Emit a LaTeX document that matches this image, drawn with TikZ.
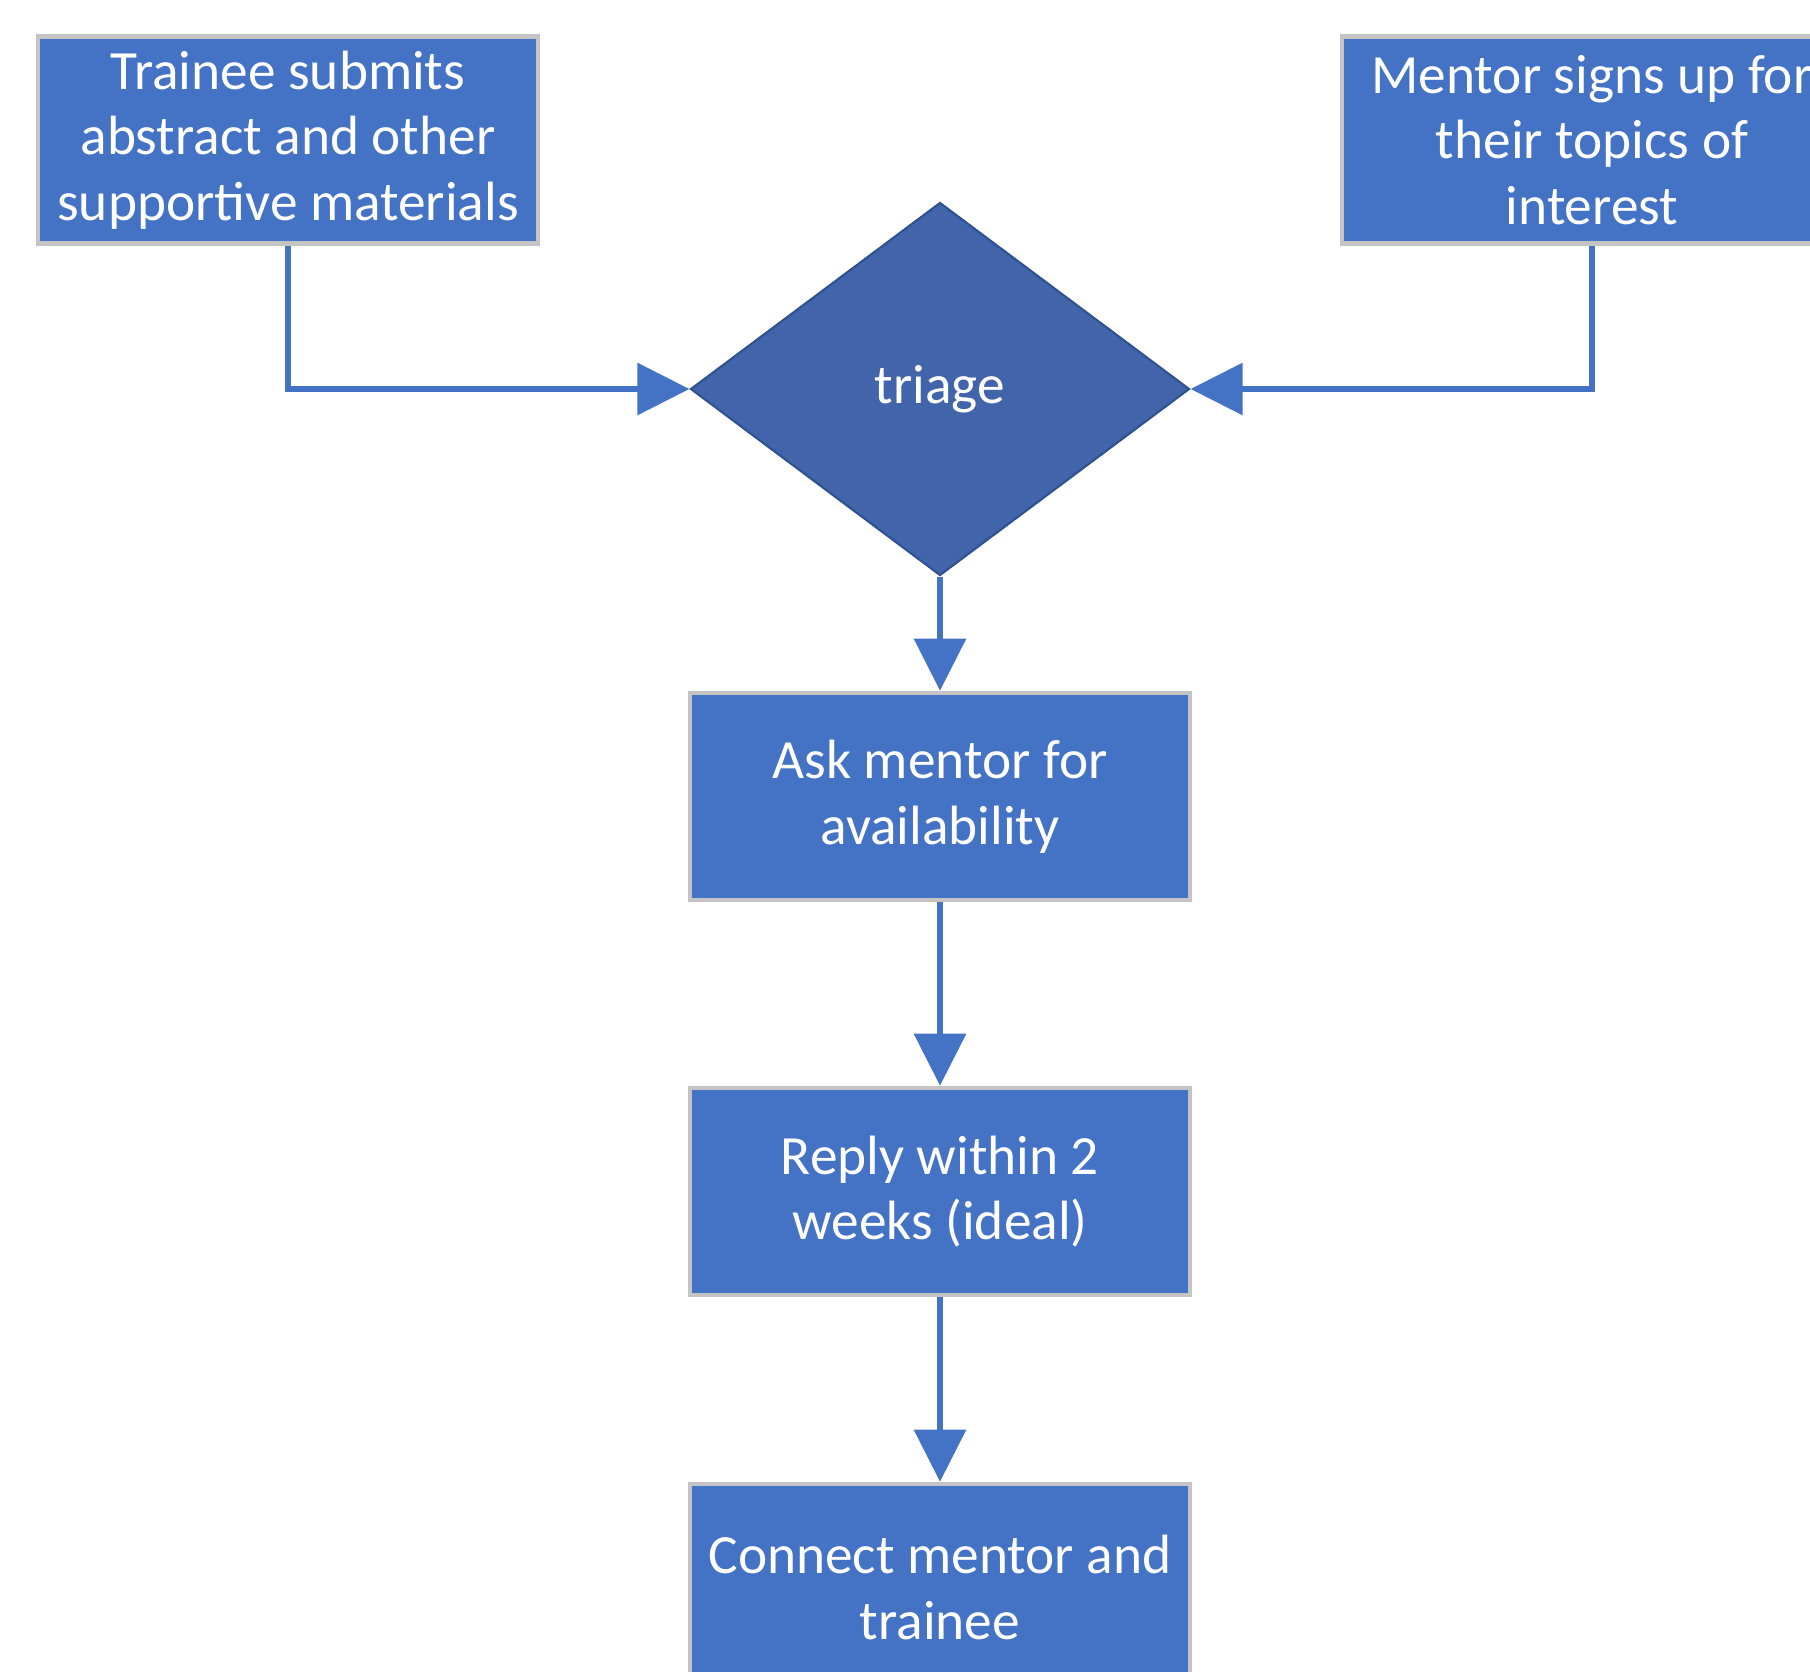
\documentclass[tikz,border=0pt]{standalone}
\usepackage{fontspec}
\setmainfont{Carlito}
\usetikzlibrary{shapes.geometric, arrows.meta}

\definecolor{boxblue}{HTML}{4472C4}
\definecolor{diamondblue}{HTML}{4264AA}
\definecolor{diamondedge}{HTML}{2F528F}
\definecolor{boxedge}{HTML}{C4C4C4}

\tikzstyle{arrow} = [draw=boxblue, line width=3.4pt, -{Triangle[length=1.04cm, width=1.02cm]}]
\tikzstyle{process} = [rectangle, draw=boxedge, line width=2.6pt, fill=boxblue, text=white, align=center, minimum width=10cm, minimum height=4.14cm, font=\fontsize{31.5}{37.4}\selectfont]
\tikzstyle{decision} = [diamond, draw=diamondedge, line width=1.2pt, fill=diamondblue, text=white, inner sep=0pt, minimum width=9.98cm, minimum height=7.46cm, font=\fontsize{31.5}{37.4}\selectfont]

\begin{document}
\begin{tikzpicture}

\useasboundingbox (0,0) rectangle (36.2,-33.42);

% inputs

\node[process] (trainee) at (5.76,-2.8) {Trainee submits\\abstract and other\\supportive materials};
\node[process] (mentor) at (31.84,-2.8) {Mentor signs up for\\their topics of\\interest};

\node[decision] (triage) at (18.8,-7.78) {triage};

\draw [arrow] (trainee.south) |- (triage.west);
\draw [arrow] (mentor.south) |- (triage.east);

% steps

\node[process] (ask) at (18.8,-15.93) {Ask mentor for\\availability};
\node[process] (reply) at (18.8,-23.83) {Reply within 2\\weeks (ideal)};
\node[process] (connect) at (18.8,-31.75) {Connect mentor and\\trainee};

\draw [arrow] (triage.south) -- (ask);
\draw [arrow] (ask) -- (reply);
\draw [arrow] (reply) -- (connect);

\end{tikzpicture}
\end{document}
